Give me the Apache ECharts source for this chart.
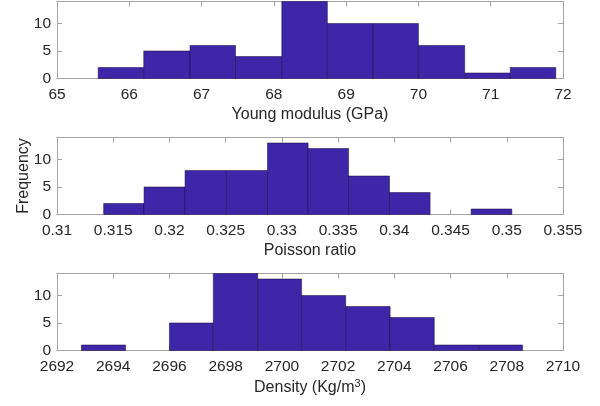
<!DOCTYPE html>
<html>
<head>
<meta charset="utf-8">
<script src="https://cdn.jsdelivr.net/npm/echarts@6/dist/echarts.min.js"></script>
<style>
html,body{margin:0;padding:0;background:#fff;}
#c{width:600px;height:406px;}
</style>
</head>
<body>
<div id="c"></div>
<script>
// ---- data ----
const youngEdges = [65.57, 66.20, 66.84, 67.47, 68.11, 68.74, 69.37, 70.00, 70.64, 71.27, 71.90];
const youngCounts = [2, 5, 6, 4, 14, 10, 10, 6, 1, 2];
const poissonEdges = [0.31415, 0.31774, 0.32139, 0.32507, 0.32872, 0.33233, 0.33593, 0.33957, 0.34318, 0.34683, 0.35045];
const poissonCounts = [2, 5, 8, 8, 13, 12, 7, 4, 0, 1];
const densityEdges = [2692.87, 2694.44, 2696.00, 2697.56, 2699.14, 2700.70, 2702.27, 2703.85, 2705.42, 2707.00, 2708.56];
const densityCounts = [1, 0, 5, 14, 13, 10, 8, 6, 1, 1];

const xRanges = [[65, 72, 1], [0.31, 0.355, 0.005], [2692, 2710, 2]];
const yRange = [0, 14, 5];
const xNames = ['Young modulus (GPa)', 'Poisson ratio', 'Density (Kg/m{sup|3})'];
const yName = 'Frequency';

// ---- chart ----
const FONT = 'Liberation Sans, Arial, Helvetica, sans-serif';
const AX = '#a3a3a3';
const TXT = '#262626';
const BAR = 'rgb(62,38,168)';

const gridTops = [1.5, 137.5, 273.5];
const grids = gridTops.map(t => ({left: 57, width: 506, top: t, height: 77, containLabel: false}));

const xAxes = [], yAxes = [], series = [];
const sets = [[youngEdges, youngCounts], [poissonEdges, poissonCounts], [densityEdges, densityCounts]];

sets.forEach((s, i) => {
  const [mn, mx, iv] = xRanges[i];
  const common = {
    type: 'value', gridIndex: i, min: mn, max: mx, interval: iv,
    axisLine: {show: true, onZero: false, lineStyle: {color: AX, width: 1}},
    axisTick: {show: true, inside: true, length: 5, lineStyle: {color: AX}},
    splitLine: {show: false}
  };
  xAxes.push(Object.assign({}, common, {
    position: 'bottom',
    axisLabel: {show: true, margin: 8, color: TXT, fontFamily: FONT, fontSize: 15.5,
      formatter: v => String(Number(v.toPrecision(10)))},
    name: xNames[i], nameLocation: 'middle', nameGap: 28, nameMoveOverlap: false,
    nameTextStyle: {color: TXT, fontFamily: FONT, fontSize: 16,
      rich: {sup: {fontSize: 11, verticalAlign: 'top', padding: [0, 0, 8, 0], color: TXT, fontFamily: FONT}}}
  }));
  xAxes.push(Object.assign({}, common, {position: 'top', axisLabel: {show: false}}));

  const yc = {
    type: 'value', gridIndex: i, min: yRange[0], max: yRange[1], interval: yRange[2],
    axisLine: {show: true, onZero: false, lineStyle: {color: AX, width: 1}},
    axisTick: {show: true, inside: true, length: 5, lineStyle: {color: AX}},
    splitLine: {show: false}
  };
  yAxes.push(Object.assign({}, yc, {
    position: 'left',
    axisLabel: {show: true, margin: 6, color: TXT, fontFamily: FONT, fontSize: 15.5,
      formatter: v => (v % yRange[2] === 0 ? String(v) : '')},
    name: i === 1 ? yName : '', nameLocation: 'middle', nameGap: 25, nameMoveOverlap: false,
    nameTextStyle: {color: TXT, fontFamily: FONT, fontSize: 16}
  }));
  yAxes.push(Object.assign({}, yc, {position: 'right', axisLabel: {show: false}}));

  const [edges, counts] = s;
  const data = [];
  counts.forEach((c, k) => { if (c > 0) data.push([edges[k], edges[k + 1], c]); });
  series.push({
    type: 'custom',
    xAxisIndex: i * 2, yAxisIndex: i * 2,
    encode: {x: [0, 1], y: 2},
    data: data,
    renderItem: (params, api) => {
      const p0 = api.coord([api.value(0), api.value(2)]);
      const p1 = api.coord([api.value(1), 0]);
      return {
        type: 'rect',
        shape: {x: p0[0], y: p0[1], width: p1[0] - p0[0], height: p1[1] - p0[1]},
        style: {fill: BAR, stroke: 'rgba(20,10,60,0.85)', lineWidth: 0.6}
      };
    }
  });
});

const chart = echarts.init(document.getElementById('c'), null, {renderer: 'canvas'});
chart.setOption({
  animation: false,
  backgroundColor: '#fff',
  grid: grids,
  xAxis: xAxes,
  yAxis: yAxes,
  series: series
});
</script>
</body>
</html>
